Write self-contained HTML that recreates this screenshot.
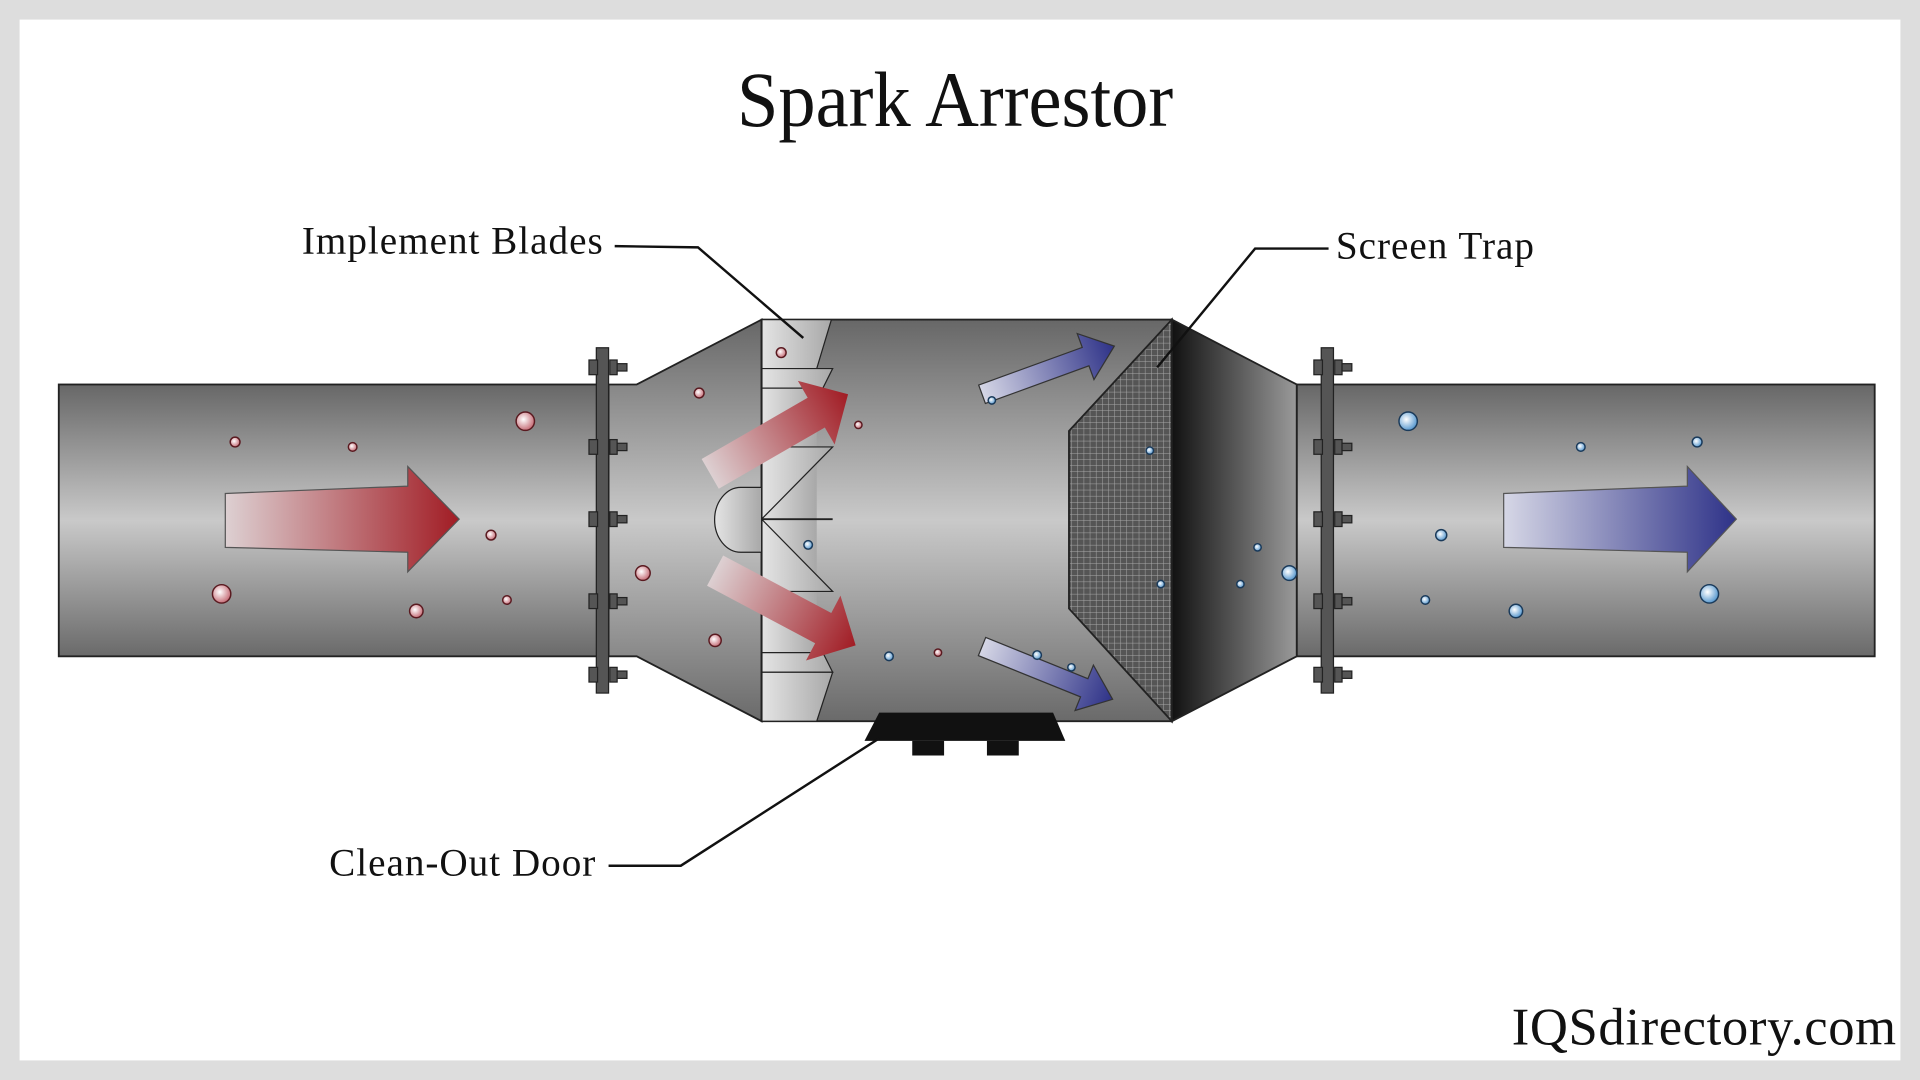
<!DOCTYPE html>
<html><head><meta charset="utf-8"><style>html,body{margin:0;padding:0;background:#ddd}svg{display:block}</style></head>
<body>
<svg width="1920" height="1080" viewBox="0 0 1568 882" xmlns="http://www.w3.org/2000/svg">
<defs>
<linearGradient id="pipe" x1="0" y1="0" x2="0" y2="1">
<stop offset="0" stop-color="#676767"/><stop offset="0.5" stop-color="#c9c9c9"/><stop offset="1" stop-color="#6a6a6a"/></linearGradient>
<linearGradient id="blade" x1="0" y1="0" x2="1" y2="0"><stop offset="0" stop-color="#e4e4e4"/><stop offset="1" stop-color="#a8a8a8"/></linearGradient>
<linearGradient id="cone" x1="0" y1="0" x2="1" y2="0"><stop offset="0" stop-color="#111"/><stop offset="1" stop-color="#9a9a9a"/></linearGradient>
<linearGradient id="red" x1="0" y1="0" x2="1" y2="0"><stop offset="0" stop-color="#ddd0d2"/><stop offset="1" stop-color="#a11c24"/></linearGradient>
<linearGradient id="blue" x1="0" y1="0" x2="1" y2="0"><stop offset="0" stop-color="#d6d7e6"/><stop offset="1" stop-color="#2e3288"/></linearGradient>
<radialGradient id="rb" cx="0.4" cy="0.4" r="0.6"><stop offset="0" stop-color="#fff"/><stop offset="1" stop-color="#c7707a"/></radialGradient>
<radialGradient id="bb" cx="0.4" cy="0.4" r="0.6"><stop offset="0" stop-color="#fff"/><stop offset="1" stop-color="#5a9ad0"/></radialGradient>
<pattern id="mesh" width="5" height="5" patternUnits="userSpaceOnUse"><rect width="5" height="5" fill="#555"/><path d="M0 0H5M0 0V5" stroke="#aaa" stroke-width="0.8"/></pattern>
<g id="b"><rect x="-7" y="-6" width="7" height="12"/><rect x="10" y="-6" width="6" height="12"/><rect x="16" y="-3" width="8" height="6"/></g>
</defs>
<rect x="16" y="16" width="1536" height="850" fill="#fff"/>
<text x="780" y="103" text-anchor="middle" font-family="Liberation Serif, serif" font-size="64" transform="translate(780 0) scale(0.95 1) translate(-780 0)" fill="#111">Spark Arrestor</text>
<!-- pipes -->
<rect x="48" y="314" width="445" height="222" fill="url(#pipe)" stroke="#222" stroke-width="1.5"/>
<rect x="1059" y="314" width="472" height="222" fill="url(#pipe)" stroke="#222" stroke-width="1.5"/>
<polygon points="497,314 520,314 622,261 622,589 520,536 497,536" fill="url(#pipe)" stroke="#222" stroke-width="1.5"/>
<rect x="622" y="261" width="335" height="328" fill="url(#pipe)" stroke="#222" stroke-width="1.5"/>
<!-- blades -->
<polygon points="622,261 679,261 667,301 622,301" fill="url(#blade)" stroke="#222"/>
<rect x="622" y="301" width="45" height="248" fill="url(#blade)"/>
<polygon points="622,301 680,301 672,317 622,317" fill="url(#blade)" stroke="#222"/>
<polygon points="622,365 680,365 622,424" fill="url(#blade)" stroke="#222"/>
<polygon points="622,424 680,483 622,483" fill="url(#blade)" stroke="#222"/>
<polygon points="622,533 672,533 680,549 622,549" fill="url(#blade)" stroke="#222"/>
<polygon points="622,549 680,549 667,589 622,589" fill="url(#blade)" stroke="#222"/>
<line x1="622" y1="261" x2="622" y2="589" stroke="#222" stroke-width="1.5"/>
<line x1="622" y1="424" x2="680" y2="424" stroke="#222" stroke-width="1.5"/>
<path d="M622,398 H605 A21 26 0 0 0 605,451 H622Z" fill="url(#blade)" stroke="#222"/>
<!-- screen -->
<polygon points="957,261 873,352 873,497 957,589" fill="url(#mesh)" stroke="#222" stroke-width="1.5"/>
<polygon points="957,261 1059,314 1059,536 957,589" fill="url(#cone)" stroke="#222" stroke-width="1.5"/>
<!-- flanges -->
<g fill="#555" stroke="#222">
<rect x="487" y="284" width="10" height="282"/>
<rect x="1079" y="284" width="10" height="282"/>
<g transform="translate(488,300)"><use href="#b"/></g><g transform="translate(488,365)"><use href="#b"/></g><g transform="translate(488,424)"><use href="#b"/></g><g transform="translate(488,491)"><use href="#b"/></g><g transform="translate(488,551)"><use href="#b"/></g>
<g transform="translate(1080,300)"><use href="#b"/></g><g transform="translate(1080,365)"><use href="#b"/></g><g transform="translate(1080,424)"><use href="#b"/></g><g transform="translate(1080,491)"><use href="#b"/></g><g transform="translate(1080,551)"><use href="#b"/></g>
</g>
<!-- door -->
<polygon points="718,582 860,582 870,605 706,605" fill="#111"/>
<rect x="745" y="605" width="26" height="12" fill="#111"/><rect x="806" y="605" width="26" height="12" fill="#111"/>
<!-- arrows -->
<polygon points="184,403 333,397 333,381 375,424 333,467 333,451 184,447" fill="url(#red)" stroke="#555"/>
<polygon points="1228,403 1378,397 1378,381 1418,424 1378,467 1378,451 1228,447" fill="url(#blue)" stroke="#555"/>
<g transform="translate(580,387) rotate(-30)"><polygon points="0,-14 100,-14 100,-30 130,0 100,30 100,14 0,14" fill="url(#red)"/></g>
<g transform="translate(584,466) rotate(28)"><polygon points="0,-14 100,-14 100,-30 130,0 100,30 100,14 0,14" fill="url(#red)"/></g>
<g transform="translate(802,322) rotate(-20)"><polygon points="0,-8 90,-8 90,-20 115,0 90,20 90,8 0,8" fill="url(#blue)" stroke="#333"/></g>
<g transform="translate(802,528) rotate(22)"><polygon points="0,-8 90,-8 90,-20 115,0 90,20 90,8 0,8" fill="url(#blue)" stroke="#333"/></g>
<!-- particles -->
<g fill="url(#rb)" stroke="#5a1a20" stroke-width="1.2">
<circle cx="192" cy="361" r="4"/><circle cx="288" cy="365" r="3.5"/><circle cx="429" cy="344" r="7.5"/><circle cx="401" cy="437" r="4"/><circle cx="181" cy="485" r="7.5"/><circle cx="340" cy="499" r="5.5"/><circle cx="414" cy="490" r="3.5"/><circle cx="571" cy="321" r="4"/><circle cx="525" cy="468" r="6"/><circle cx="584" cy="523" r="5"/><circle cx="638" cy="288" r="4"/><circle cx="701" cy="347" r="3"/><circle cx="766" cy="533" r="3"/>
</g>
<g fill="url(#bb)" stroke="#1a3a5a" stroke-width="1.2">
<circle cx="1150" cy="344" r="7.5"/><circle cx="1291" cy="365" r="3.5"/><circle cx="1386" cy="361" r="4"/><circle cx="1177" cy="437" r="4.5"/><circle cx="1164" cy="490" r="3.5"/><circle cx="1238" cy="499" r="5.5"/><circle cx="1396" cy="485" r="7.5"/><circle cx="1053" cy="468" r="6"/><circle cx="1027" cy="447" r="3"/><circle cx="1013" cy="477" r="3"/><circle cx="939" cy="368" r="3"/><circle cx="948" cy="477" r="3"/><circle cx="660" cy="445" r="3.5"/><circle cx="726" cy="536" r="3.5"/><circle cx="847" cy="535" r="3.5"/><circle cx="875" cy="545" r="3"/><circle cx="810" cy="327" r="3"/>
</g>
<!-- leaders -->
<g stroke="#111" stroke-width="2" fill="none">
<polyline points="502,201 570,202 656,276"/>
<polyline points="1085,203 1025,203 945,300"/>
<polyline points="497,707 556,707 718,603"/>
</g>
<g font-family="Liberation Serif, serif" font-size="32" fill="#111" letter-spacing="0.8">
<text x="493" y="207" text-anchor="end">Implement Blades</text>
<text x="1091" y="211">Screen Trap</text>
<text x="487" y="715" text-anchor="end">Clean-Out Door</text>
<text x="1549" y="853" text-anchor="end" font-size="43" letter-spacing="0.5">IQSdirectory.com</text>
</g>
</svg>
</body></html>
